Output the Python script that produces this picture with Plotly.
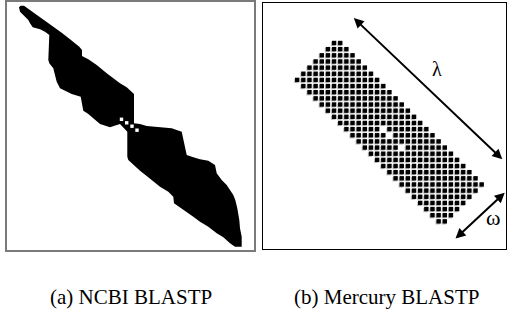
import plotly.graph_objects as go

# ---------------- Panel (a): NCBI BLASTP search region outline ----------------
blob_x = [19.0, 20.7, 24.0, 33.3, 40.0, 45.0, 53.3, 61.7, 70.0, 79.3, 82.0, 82.0, 88.3, 96.7,
          106.7, 115.0, 120.0, 126.7, 134.0, 134.0, 140.0, 146.7, 156.7, 171.7, 181.7, 183.3,
          186.7, 193.3, 200.0, 208.3, 215.0, 216.7, 221.7, 226.7, 230.0, 233.3, 235.3, 237.3,
          239.3, 240.0, 241.7, 241.7, 235.0, 230.0, 223.3, 216.7, 208.3, 200.0, 193.3, 183.3,
          174.0, 173.3, 168.3, 160.0, 153.3, 146.7, 140.0, 133.3, 128.3, 127.3, 127.3, 120.0,
          115.0, 110.0, 100.0, 95.0, 88.3, 83.3, 81.7, 80.7, 71.7, 60.0, 56.7, 55.0, 53.3, 49.3,
          48.3, 49.3, 45.0, 40.0, 32.7, 30.0, 28.3, 23.3, 20.0, 19.0]
blob_y = [7.3, 5.7, 5.7, 12.3, 16.7, 20.7, 26.7, 32.7, 39.3, 46.7, 50.0, 56.0, 59.3, 65.0,
          73.3, 80.0, 83.3, 87.3, 94.0, 123.3, 124.0, 126.0, 126.7, 128.3, 131.7, 140.0,
          155.0, 157.3, 159.3, 160.7, 165.0, 173.3, 180.0, 185.0, 190.0, 195.0, 200.0, 208.3,
          220.0, 228.3, 236.7, 246.7, 246.7, 243.3, 237.3, 233.3, 226.7, 221.7, 216.7, 210.0,
          203.3, 196.7, 191.7, 186.7, 181.7, 176.0, 170.7, 165.0, 160.0, 156.7, 131.7, 124.0,
          126.0, 127.3, 124.0, 119.3, 114.0, 110.7, 104.0, 96.7, 94.0, 88.3, 81.7, 75.0, 68.3, 63.3,
          60.0, 35.0, 31.7, 29.3, 27.3, 23.3, 20.0, 15.0, 11.7, 7.3]
gap_x = [121.5, 126.7, 132.0, 137.0]
gap_y = [119.3, 122.8, 126.2, 130.2]

# ---------------- Panel (b): Mercury BLASTP banded cells ----------------
row_start = [6, 5, 4, 3, 2, 1, 0, 1, 2, 3, 4, 5, 6, 7, 8, 9, 10, 11, 12, 13, 14, 15, 16, 17,
             18, 19, 20, 21, 22, 23]
row_end = [7, 8, 9, 10, 11, 12, 13, 14, 15, 16, 17, 18, 19, 20, 21, 22, 23, 24, 25, 26, 27,
           28, 29, 30, 29, 28, 27, 26, 25, 24]
missing_cells = [(14, 14), (15, 15), (17, 17)]

captions = ["(a) NCBI BLASTP", "(b) Mercury BLASTP"]

cell_c, cell_r = [], []
for r, (s, e) in enumerate(zip(row_start, row_end)):
    for c in range(s, e + 1):
        if (c, r) not in missing_cells:
            cell_c.append(c)
            cell_r.append(r)

fig = go.Figure()

fig.add_trace(go.Scatter(x=blob_x, y=blob_y, mode="lines", fill="toself",
                         fillcolor="black", line=dict(width=0, color="black"),
                         xaxis="x", yaxis="y", hoverinfo="skip"))
fig.add_trace(go.Scatter(x=gap_x, y=gap_y, mode="markers",
                         marker=dict(symbol="square", size=3.4, color="white", line=dict(width=0)),
                         xaxis="x", yaxis="y", hoverinfo="skip"))

px = 6.15
fig.add_trace(go.Scatter(x=[c - 1.0 / px for c in cell_c], y=[r + 1.0 / px for r in cell_r],
                         mode="markers",
                         marker=dict(symbol="square", size=4.4, color="#c4c4c4", line=dict(width=0)),
                         xaxis="x2", yaxis="y2", hoverinfo="skip"))
fig.add_trace(go.Scatter(x=cell_c, y=cell_r, mode="markers",
                         marker=dict(symbol="square", size=4.4, color="black", line=dict(width=0)),
                         xaxis="x2", yaxis="y2", hoverinfo="skip"))

W, H = 508, 320
ax_common = dict(showticklabels=False, ticks="", showgrid=False, zeroline=False,
                 showline=True, mirror=True, fixedrange=True)

fig.update_layout(
    width=W, height=H, margin=dict(l=0, r=0, t=0, b=0),
    paper_bgcolor="white", plot_bgcolor="white", showlegend=False,
    xaxis=dict(domain=[7 / W, 254 / W], range=[7, 254], linecolor="#7a7a7a", linewidth=1.5, **ax_common),
    yaxis=dict(domain=[1 - 250 / H, 1 - 2 / H], range=[250, 2], linecolor="#7a7a7a", linewidth=1.5, **ax_common),
    xaxis2=dict(domain=[263 / W, 506 / W], range=[(263 - 297.2) / px, (506 - 297.2) / px],
                linecolor="black", linewidth=1.2, anchor="y2", **ax_common),
    yaxis2=dict(domain=[1 - 249 / H, 1 - 3 / H], range=[(249 - 43) / px, (3 - 43) / px],
                linecolor="black", linewidth=1.2, anchor="x2", **ax_common),
)

arrow_style = dict(xref="x2", yref="y2", axref="x2", ayref="y2", text="", showarrow=True,
                   arrowhead=2, arrowsize=1, startarrowhead=2, startarrowsize=1,
                   arrowside="end+start", arrowwidth=2, arrowcolor="black")
fig.add_annotation(x=33.35, y=18.91, ax=8.96, ay=-4.28, **arrow_style)
fig.add_annotation(x=33.74, y=24.34, ax=25.50, ay=32.03, **arrow_style)

fig.add_annotation(x=22.65, y=4.23, xref="x2", yref="y2", text="λ", showarrow=False,
                   font=dict(family="Liberation Serif", size=20, color="black"))
fig.add_annotation(x=31.84, y=28.4, xref="x2", yref="y2", text="ω", showarrow=False,
                   font=dict(family="Liberation Serif", size=22, color="black"))

for cap, cx in zip(captions, [130.5 / W, 386.5 / W]):
    fig.add_annotation(x=cx, y=1 - 296.5 / H, xref="paper", yref="paper", text=cap,
                       showarrow=False, xanchor="center", yanchor="middle",
                       font=dict(family="Liberation Serif", size=21, color="black"))

fig.write_html("out.html", config={"displayModeBar": False},
               post_script="document.body.style.margin='0';document.body.style.padding='0';")
